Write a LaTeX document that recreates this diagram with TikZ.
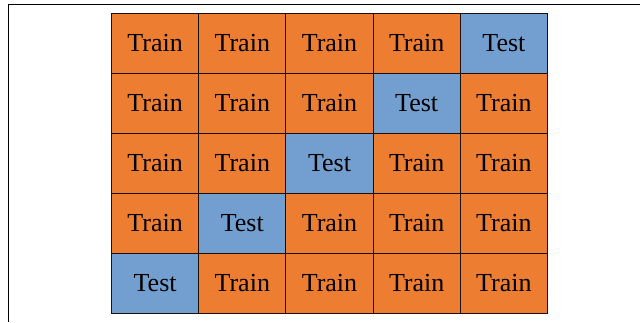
\documentclass[tikz,border=0pt]{standalone}
\usepackage{fontspec}
\setmainfont{Liberation Serif}
\newfontfamily\cellfont{Liberation Serif}
\definecolor{trainc}{HTML}{ED7D31}
\definecolor{testc}{HTML}{729FCF}
\definecolor{edgec}{HTML}{1A1008}
\tikzset{
  cell/.style={draw=edgec, line width=1pt, minimum width=87.2pt, minimum height=60pt, inner sep=0pt, anchor=north west, font=\cellfont\fontsize{26}{26}\selectfont},
  traincell/.style={cell, fill=trainc},
  testcell/.style={cell, fill=testc},
  frame/.style={draw=black, line width=1pt}
}
\begin{document}
\begin{tikzpicture}[x=1pt,y=-1pt]
\useasboundingbox (0,0) rectangle (640,322);
\coordinate (fa) at (8,322);
\coordinate (fb) at (8,4.5);
\coordinate (fc) at (640,4.5);
\draw[frame] (fa) -- (fb) -- (fc);
\foreach \r in {0,...,4}{
  \foreach \c in {0,...,4}{
    \pgfmathtruncatemacro{\s}{\r+\c}
    \ifnum\s=4
      \node[testcell] (c\r\c) at ({111+87.2*\c},{13+60*\r}) {Test};
    \else
      \node[traincell] (c\r\c) at ({111+87.2*\c},{13+60*\r}) {Train};
    \fi
  }
}
\end{tikzpicture}
\end{document}
